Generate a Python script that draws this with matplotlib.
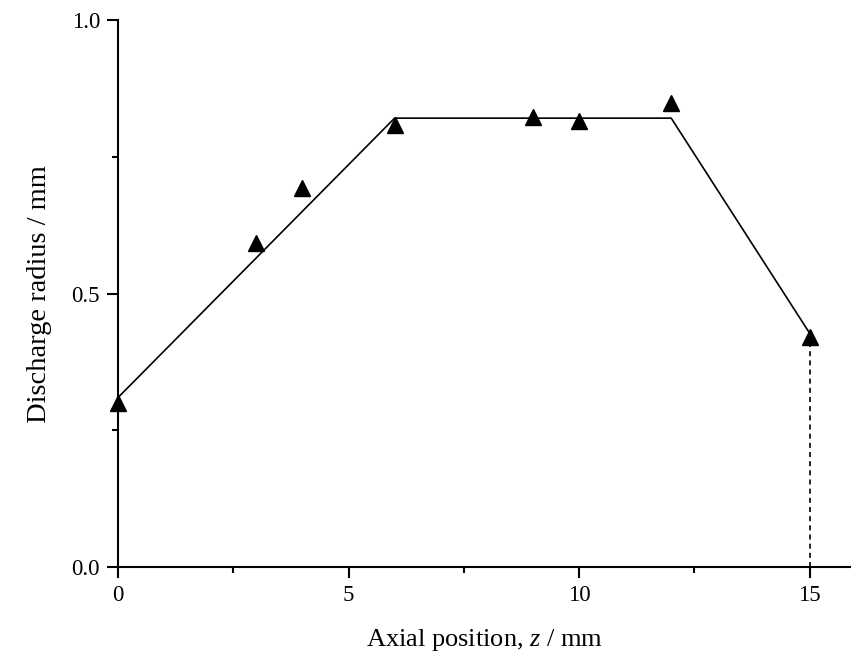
import matplotlib
matplotlib.use("Agg")
from matplotlib import pyplot as plt
from matplotlib.ticker import MultipleLocator, FormatStrFormatter

# measured points
z_pos = [0, 3, 4, 6, 9, 10, 12, 15]
radius = [0.30, 0.592, 0.693, 0.808, 0.823, 0.815, 0.848, 0.420]

# piecewise fit line
fit_z = [0, 6, 12, 15]
fit_r = [0.31, 0.821, 0.821, 0.428]

plt.rcParams['font.family'] = ['Liberation Serif', 'DejaVu Serif']
plt.rcParams['mathtext.fontset'] = 'custom'
plt.rcParams['mathtext.rm'] = 'Liberation Serif'
plt.rcParams['mathtext.it'] = 'Liberation Serif:italic'

fig = plt.figure(figsize=(8.51, 6.54), dpi=100)
ax = fig.add_axes([0.1387, 0.133, 0.8613, 0.836])

ax.plot(fit_z, fit_r, color='black', lw=1.2, zorder=2)
ax.plot([z_pos[-1], z_pos[-1]], [0, radius[-1]], color='black', lw=1.2,
        ls=(0, (3, 2.5)), zorder=2)
ax.plot(z_pos, radius, ls='none', marker='^', ms=11, color='black', zorder=3,
        clip_on=False)

ax.set_xlim(0, 15.9)
ax.set_ylim(0, 1.0)
ax.xaxis.set_major_locator(MultipleLocator(5))
ax.xaxis.set_minor_locator(MultipleLocator(2.5))
ax.yaxis.set_major_locator(MultipleLocator(0.5))
ax.yaxis.set_minor_locator(MultipleLocator(0.25))
ax.yaxis.set_major_formatter(FormatStrFormatter('%.1f'))

for s in ['top', 'right']:
    ax.spines[s].set_visible(False)
for s in ['left', 'bottom']:
    ax.spines[s].set_linewidth(1.5)

ax.tick_params(which='major', direction='out', length=8, width=1.5, labelsize=16.5, pad=5)
ax.tick_params(which='minor', direction='out', length=4, width=1.5)

ax.set_xlabel('Axial position, $\\mathit{z}$ / mm', fontsize=19, labelpad=15)
ax.set_ylabel('Discharge radius / mm', fontsize=20.5, labelpad=14)

fig.savefig('out.png', dpi=100)
